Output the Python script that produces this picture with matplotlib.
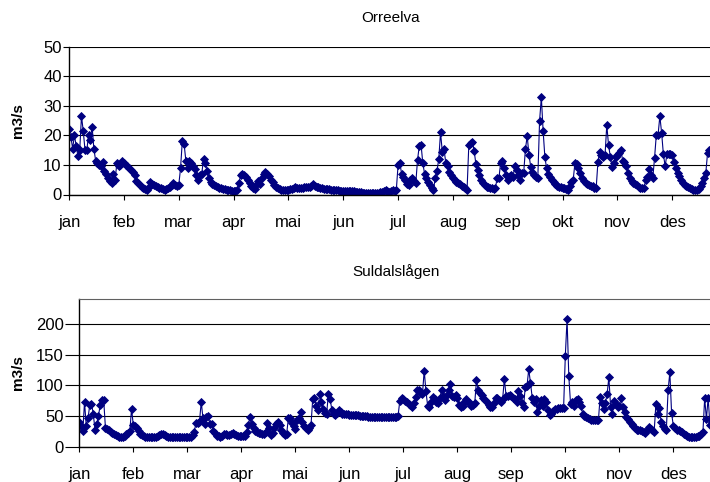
import matplotlib
matplotlib.use("Agg")
import matplotlib.pyplot as plt
import numpy as np

# daily flow, one value per day (m3/s)
months = ['jan', 'feb', 'mar', 'apr', 'mai', 'jun', 'jul', 'aug', 'sep', 'okt', 'nov', 'des']

orreelva = [
    22, 19.5, 15.5, 20, 16.5, 13, 15, 26.5, 21.5, 15,
    15, 20, 18.5, 23, 15.5, 11.5, 10.5, 10, 9.5, 11,
    8, 7, 5.5, 4.5, 4, 7, 5, 10.5, 9.5, 10,
    11.5, 10.5, 10, 9.5, 9, 8.3, 7.5, 6.5, 4.5, 3.8,
    3.2, 2.6, 2.1, 1.8, 1.6, 2.5, 4.2, 3.6, 3.2, 2.8,
    2.5, 2.3, 2.1, 1.8, 1.5, 1.8, 2.1, 2.6, 3.3, 3.8,
    3.2, 2.8, 3.2, 8.8, 18, 17.2, 11.5, 8.8, 11.5, 10.5,
    9.5, 8.5, 6.5, 5, 6.5, 7, 12, 10.5, 8, 5.5,
    4.3, 3.6, 3.2, 2.9, 2.6, 2.3, 2.1, 2, 1.8, 1.6,
    1.5, 1.4, 1.3, 1.2, 1.2, 1.5, 3.8, 6.5, 6.8, 6.5,
    6, 5, 4, 2.8, 2.2, 1.8, 3.6, 4.7, 3.5, 5.5,
    7, 7.5, 7, 6.2, 5, 4.2, 3.3, 2.6, 2.1, 1.8,
    1.6, 1.5, 1.5, 1.5, 1.6, 1.8, 2, 2.2, 2.4, 2.3,
    2.2, 2.1, 2.3, 2.5, 2.6, 2.5, 2.4, 2.8, 3.4, 3,
    2.6, 2.4, 2.2, 2.1, 1.9, 1.8, 1.8, 1.7, 1.6, 1.5,
    1.5, 1.4, 1.4, 1.3, 1.3, 1.2, 1.2, 1.2, 1.2, 1.2,
    1.2, 1.1, 1, 0.9, 0.8, 0.7, 0.6, 0.5, 0.5, 0.5,
    0.5, 0.5, 0.5, 0.5, 0.5, 0.6, 0.7, 1, 1.3, 1.5,
    1.2, 1, 1.2, 1.4, 1.2, 1.5, 10, 10.7, 7, 6,
    4.9, 3.6, 3.3, 4.9, 5.5, 4.7, 3.8, 11.7, 16.5, 16.8,
    10.5, 7, 5.5, 4.3, 3.2, 2.1, 1.6, 5.5, 8.1, 11.9,
    21, 14.5, 15.3, 10.5, 9.6, 7.5, 6.5, 5.5, 5, 4.3,
    3.8, 3.4, 3, 2.6, 2.1, 1.6, 16.8, 17.3, 17.9, 14.8,
    10.3, 8.3, 6.6, 5, 4, 3.3, 2.7, 2.4, 2.1, 2.1,
    2, 2.1, 5.5, 5.5, 10.7, 11.4, 8.8, 6.6, 4.9, 6.2,
    6.6, 6, 9.6, 8.3, 6.5, 4.9, 7.2, 7.2, 15.3, 19.8,
    13.4, 9.4, 7.7, 6.6, 5.8, 5.5, 24.9, 32.9, 21.6, 12.6,
    8.8, 7.1, 5.8, 4.8, 4.3, 3.5, 3, 2.7, 2.4, 2.2,
    2.1, 1.8, 1.5, 2.9, 4.3, 4.9, 10.7, 10.3, 8.8, 7.2,
    5.5, 4.5, 3.8, 3.4, 3.2, 3, 2.9, 2.3, 2.1, 11.1,
    14.5, 13.3, 12.8, 13.3, 23.5, 16.7, 12.8, 9.4, 10.5, 12.8,
    13.3, 14.2, 15, 11.4, 11.1, 9.6, 7.2, 5.5, 4.7, 3.8,
    3.4, 3.2, 2.6, 2.3, 2.2, 2.1, 4.9, 5.8, 8.5, 6.6,
    5.5, 12.3, 20.2, 20.2, 26.5, 20.9, 13.6, 9.6, 13.6, 13.6,
    13.6, 13.3, 11.1, 8.8, 7.2, 6.1, 4.9, 4, 3.2, 2.8,
    2.4, 2.1, 1.8, 1.6, 1.5, 1.5, 1.7, 2.9, 4, 5.5,
    7.4, 14.2, 15, 14, 13,
]

suldalslagen = [
    40, 33, 25, 73, 33, 46, 68, 70, 54, 28,
    37, 50, 68, 76, 76, 31, 29, 27, 24, 22,
    20, 19, 17.5, 16.5, 16, 16.5, 18, 20, 22, 25,
    62, 35, 34, 30, 25, 21, 19, 17, 16.5, 16.3,
    16.3, 16.3, 16.3, 16.3, 16.5, 17, 19, 20.5, 20, 19,
    17.5, 16.5, 16.3, 16, 16, 16, 16, 16, 16, 16,
    16, 16, 16, 16, 16, 19, 24.5, 39, 39, 41,
    73, 46, 37, 48, 50, 37, 37, 26, 22, 18,
    17.4, 16.3, 18, 20, 20, 19, 19, 21, 21.7, 20,
    19, 18, 17.5, 17.4, 17.4, 17.4, 24.5, 35, 48, 37,
    30, 26, 24, 23, 22, 21, 20.6, 24.5, 38, 30,
    19, 23, 30, 37, 41, 35, 27, 22, 19, 20,
    46, 47, 38, 33, 29, 43, 46, 56, 41, 34,
    30, 27, 30, 35, 78, 79, 66, 60, 86, 73,
    61, 55, 54, 86, 77, 60, 54, 52, 55, 59,
    56, 54, 53.5, 53, 52.5, 52, 52, 51.6, 51.5, 51,
    51, 50.5, 50, 50, 49.5, 49.5, 49, 49, 49, 49,
    49, 49, 49, 49, 49, 49, 49, 49, 49, 49,
    49, 49, 49, 50.5, 75, 79, 77, 75, 73, 70,
    68, 64, 71, 81, 93, 92, 88, 86, 124, 90,
    66, 65, 73, 81, 77, 73, 71, 79, 93, 82,
    76, 84, 92, 102, 82, 81, 84, 79, 68, 64,
    66, 73, 77, 73, 71, 66, 68, 71, 108, 93,
    88, 84, 80, 76, 73, 68, 64, 65, 71, 80,
    80, 76, 73, 77, 110, 83, 82, 84, 82, 79,
    77, 73, 91, 82, 71, 65, 97, 99, 126, 104,
    80, 73, 77, 57, 66, 76, 66, 77, 73, 60,
    52, 54, 58, 61, 62, 62.5, 62.5, 62.5, 62.5, 148,
    208, 115, 70, 72, 66, 76, 77, 73, 66, 54,
    50, 48, 47, 45, 44, 43.5, 43.4, 43.4, 43.4, 81.5,
    71, 61, 71, 86, 113, 65, 54, 75, 70, 64,
    66, 79, 64, 57, 49, 45, 41, 37, 34, 31,
    28, 27, 26.5, 26, 24, 23, 28, 31.5, 29, 27,
    24.5, 69.5, 54, 62.5, 41, 33, 29, 28, 92, 121,
    55, 34, 30, 27.5, 27, 25.5, 24, 21, 18.5, 17,
    15.5, 15.2, 15.2, 15.5, 16.3, 17, 18, 20.6, 24.5, 79,
    45, 80, 35, 40, 45,
]

plt.rcParams['font.family'] = ['Liberation Sans', 'DejaVu Sans']
plt.rcParams['font.size'] = 11

NAVY = '#000080'
W, H = 710, 482


def px_rect(left, top, right, bottom):
    # figure coords from pixel positions (top-left origin)
    return [left / W, 1 - bottom / H, (right - left) / W, (bottom - top) / H]


def panel(fig, rect, values, ymax, yticks, ytick_len):
    ax = fig.add_axes(rect)
    days = np.arange(len(values))
    ax.plot(days, values, color=NAVY, lw=0.8, marker='D', ms=4.0,
            mfc=NAVY, mec=NAVY, mew=0.6)
    ax.set_xlim(0, 364)
    ax.set_ylim(0, ymax)
    ax.set_yticks(yticks)
    ax.set_xticks(np.arange(0, 365, 31))
    ax.set_xticklabels(months)
    ax.yaxis.grid(True, color='black', lw=0.8)
    ax.set_axisbelow(True)
    ax.spines['right'].set_visible(False)
    ax.spines['top'].set_color('#606060')
    ax.spines['left'].set_linewidth(1)
    ax.spines['bottom'].set_linewidth(1)
    ax.tick_params(axis='y', direction='out', length=ytick_len, width=0.8, pad=1, labelsize=12)
    ax.tick_params(axis='x', direction='out', length=3.6, width=0.8, pad=11, labelsize=12)
    return ax


fig = plt.figure(figsize=(W / 100, H / 100), dpi=100)

# top panel: Orreelva
right1 = 69.1 + 364 * 1.7687
ax1 = panel(fig, px_rect(69.1, 46.7, right1, 194.5), orreelva, 50, [0, 10, 20, 30, 40, 50], 4.3)
ax1.spines['top'].set_visible(False)
fig.text((69.1 + right1) / 2 / W, 1 - 18 / H, 'Orreelva', ha='center', va='center', fontsize=11)
fig.text(18 / W, 1 - 121 / H, 'm3/s', ha='center', va='center', rotation=90,
         fontsize=11, fontweight='bold')

# bottom panel: Suldalslågen
right2 = 79.3 + 364 * 1.742
ax2 = panel(fig, px_rect(79.3, 298.5, right2, 446.7), suldalslagen, 241.4,
            [0, 50, 100, 150, 200], 10.3)
fig.text((79.3 + right2) / 2 / W, 1 - 272 / H, 'Suldalslågen', ha='center', va='center', fontsize=11)
fig.text(18 / W, 1 - 373 / H, 'm3/s', ha='center', va='center', rotation=90,
         fontsize=11, fontweight='bold')

fig.savefig('out.png', dpi=100, facecolor='white')
